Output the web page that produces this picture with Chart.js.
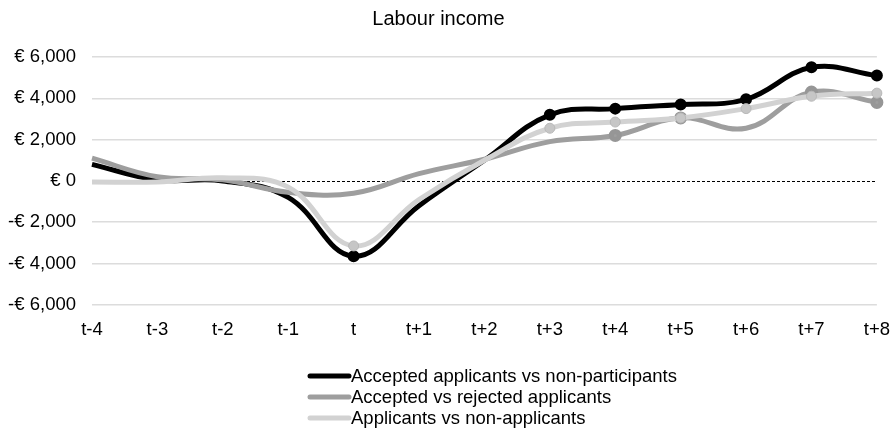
<!DOCTYPE html>
<html>
<head>
<meta charset="utf-8">
<script src="https://cdn.jsdelivr.net/npm/chart.js@4"></script>
<style>
  html, body { margin: 0; padding: 0; background: #fff; }
  #wrap { position: relative; width: 896px; height: 431px; }
</style>
</head>
<body>
<div id="wrap"><canvas id="incomeChart" width="896" height="431"></canvas></div>
<script>
// Labour income differences, by period relative to t
const periods = ['t-4', 't-3', 't-2', 't-1', 't', 't+1', 't+2', 't+3', 't+4', 't+5', 't+6', 't+7', 't+8'];
const acceptedVsNonParticipants = [800, 50, 0, -800, -3650, -1200, 1000, 3200, 3500, 3700, 3950, 5500, 5100];
const acceptedVsRejected = [1100, 200, 50, -550, -600, 350, 1050, 1900, 2200, 3050, 2550, 4300, 3800];
const applicantsVsNonApplicants = [-50, -50, 150, -300, -3150, -900, 1000, 2550, 2850, 3050, 3500, 4100, 4250];
const yTicks = [-6000, -4000, -2000, 0, 2000, 4000, 6000];

const FONT = "'Liberation Sans', Arial, sans-serif";

// marker radius per period; 0 hides the marker
function markers(r, shown) {
  return periods.map((p, i) => shown.includes(i) ? r : 0);
}

function euro(v) {
  const s = Math.abs(v).toLocaleString('en-US');
  return v < 0 ? '-€ ' + s : '€ ' + s;
}

// dashed line at zero
const zeroLine = {
  id: 'zeroLine',
  beforeDatasetsDraw(chart) {
    const y = Math.round(chart.scales.y.getPixelForValue(0));
    const { left, right } = chart.chartArea;
    const ctx = chart.ctx;
    ctx.save();
    ctx.strokeStyle = '#000';
    ctx.lineWidth = 1;
    ctx.setLineDash([3, 2]);
    ctx.beginPath();
    ctx.moveTo(left, y + 0.5);
    ctx.lineTo(right, y + 0.5);
    ctx.stroke();
    ctx.restore();
  }
};

// stacked legend under the axis
const stackedLegend = {
  id: 'stackedLegend',
  afterDraw(chart) {
    const ctx = chart.ctx;
    ctx.save();
    ctx.font = '18.5px ' + FONT;
    ctx.textBaseline = 'middle';
    ctx.lineCap = 'round';
    chart.data.datasets.forEach((ds, i) => {
      const y = 376 + i * 21;
      ctx.strokeStyle = ds.borderColor;
      ctx.lineWidth = 5;
      ctx.beginPath();
      ctx.moveTo(310, y);
      ctx.lineTo(349, y);
      ctx.stroke();
      ctx.fillStyle = '#000';
      ctx.fillText(ds.label, 351, y + 1);
    });
    ctx.restore();
  }
};

new Chart(document.getElementById('incomeChart'), {
  type: 'line',
  data: {
    labels: periods,
    datasets: [{
      label: 'Accepted applicants vs non-participants',
      data: acceptedVsNonParticipants,
      borderColor: '#000000',
      backgroundColor: '#000000',
      pointBackgroundColor: '#000000',
      pointBorderColor: '#000000',
      pointRadius: markers(3.5, [4, 7, 8, 9, 10, 11, 12]),
      borderWidth: 5,
      tension: 0.4,
      order: 3
    }, {
      label: 'Accepted vs rejected applicants',
      data: acceptedVsRejected,
      borderColor: '#9e9e9e',
      backgroundColor: '#9e9e9e',
      pointBackgroundColor: '#9e9e9e',
      pointBorderColor: '#969696',
      pointRadius: markers(4, [8, 9, 11, 12]),
      borderWidth: 5,
      tension: 0.4,
      order: 2
    }, {
      label: 'Applicants vs non-applicants',
      data: applicantsVsNonApplicants,
      borderColor: '#d2d2d2',
      backgroundColor: '#d2d2d2',
      pointBackgroundColor: '#c6c6c6',
      pointBorderColor: '#b8b8b8',
      pointBorderWidth: 1,
      pointRadius: markers(5, [4, 7, 8, 9, 10, 11, 12]),
      borderWidth: 5,
      tension: 0.4,
      order: 1
    }]
  },
  options: {
    responsive: false,
    animation: false,
    layout: { padding: { left: 0, right: 19, top: 0, bottom: 84 } },
    plugins: {
      legend: { display: false },
      tooltip: { enabled: false },
      title: {
        display: true,
        text: 'Labour income',
        color: '#000',
        font: { family: FONT, size: 20, weight: 'normal' },
        padding: { top: 7, bottom: 26 }
      }
    },
    scales: {
      x: {
        offset: false,
        grid: { display: false },
        border: { display: false },
        ticks: {
          color: '#000',
          font: { family: FONT, size: 18.5 },
          padding: 6,
          maxRotation: 0,
          autoSkip: false
        }
      },
      y: {
        min: -6000,
        max: 6000,
        afterBuildTicks(scale) {
          scale.ticks = yTicks.map(v => ({ value: v }));
        },
        afterFit(scale) {
          scale.width = 92;
        },
        grid: {
          color: ctx => ctx.tick && ctx.tick.value === 0 ? 'rgba(0,0,0,0)' : '#dcdcdc',
          lineWidth: 1.5,
          drawTicks: false
        },
        border: { display: false },
        ticks: {
          color: '#000',
          font: { family: FONT, size: 18.5 },
          padding: 16,
          callback: v => euro(v)
        }
      }
    }
  },
  plugins: [zeroLine, stackedLegend]
});
</script>
</body>
</html>
